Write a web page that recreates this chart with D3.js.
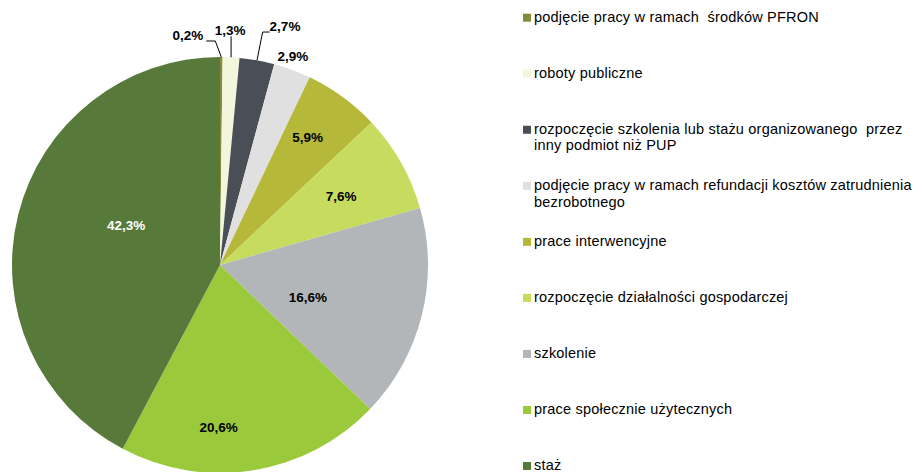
<!DOCTYPE html>
<html>
<head>
<meta charset="utf-8">
<script src="https://cdn.jsdelivr.net/npm/d3@7"></script>
<style>
  html, body { margin: 0; padding: 0; background: #fff; }
  svg { display: block; }
  text { font-family: Arial, "Liberation Sans", sans-serif; }
</style>
</head>
<body>
<svg id="chart" width="917" height="472"></svg>
<script>
// Forms of activation of the unemployed – share of participants (%)
const categories = [
  "podjęcie pracy w ramach środków PFRON",
  "roboty publiczne",
  "rozpoczęcie szkolenia lub stażu organizowanego przez inny podmiot niż PUP",
  "podjęcie pracy w ramach refundacji kosztów zatrudnienia bezrobotnego",
  "prace interwencyjne",
  "rozpoczęcie działalności gospodarczej",
  "szkolenie",
  "prace społecznie użytecznych",
  "staż"
];
const values = [0.2, 1.3, 2.7, 2.9, 5.9, 7.6, 16.6, 20.6, 42.3];

// Legend lines (long names wrap onto two lines)
const legendLines = [
  ["podjęcie pracy w ramach  środków PFRON"],
  ["roboty publiczne"],
  ["rozpoczęcie szkolenia lub stażu organizowanego  przez", "inny podmiot niż PUP"],
  ["podjęcie pracy w ramach refundacji kosztów zatrudnienia", "bezrobotnego"],
  ["prace interwencyjne"],
  ["rozpoczęcie działalności gospodarczej"],
  ["szkolenie"],
  ["prace społecznie użytecznych"],
  ["staż"]
];

const colors = ["#848c3c", "#f3f6dc", "#4a4f57", "#e0e0e0", "#b6b83a",
                "#c7dc5e", "#b3b6b9", "#9bc93c", "#577a3a"];
const labelColors = ["#000", "#000", "#000", "#000", "#000", "#000", "#000", "#000", "#fff"];

// Label placement: angle shift (deg) from the slice middle, radius factor,
// and leader style for the small slices whose labels sit outside the pie.
const labelPlacement = [
  { da: -8.3, rf: 1.118, leader: "left" },
  { da: -0.6, rf: 1.131, leader: "up" },
  { da: 4.95, rf: 1.192, leader: "right" },
  { da: -1.1, rf: 1.064, leader: null },
  { da: -1.7, rf: 0.745, leader: null },
  { da: -0.1, rf: 0.67, leader: null },
  { da: 6.0, rf: 0.45, leader: null },
  { da: 9.7, rf: 0.78, leader: null },
  { da: 9.0, rf: 0.49, leader: null }
];

const svg = d3.select("#chart");
const cx = 220, cy = 265, radius = 208;

const fmt = v => d3.format(".1f")(v).replace(".", ",") + "%";

const pie = d3.pie().sort(null).value(d => d.value).startAngle(0).endAngle(2 * Math.PI);
const data = categories.map((c, i) => ({ name: c, value: values[i], i }));
const arcs = pie(data);
const arc = d3.arc().innerRadius(0).outerRadius(radius);

const g = svg.append("g").attr("transform", `translate(${cx},${cy})`);

g.selectAll("path.slice")
  .data(arcs)
  .join("path")
  .attr("class", "slice")
  .attr("d", arc)
  .attr("fill", d => colors[d.data.i]);

const polar = (a, r) => [r * Math.sin(a), -r * Math.cos(a)];

// Data labels
arcs.forEach(d => {
  const p = labelPlacement[d.data.i];
  const mid = (d.startAngle + d.endAngle) / 2;
  const la = mid + p.da * Math.PI / 180;
  const [lx, ly] = polar(la, radius * p.rf);
  const t = g.append("text")
    .attr("x", lx).attr("y", ly)
    .attr("dy", "0.36em")
    .attr("text-anchor", "middle")
    .attr("font-size", "13.5px")
    .attr("font-weight", "bold")
    .attr("fill", labelColors[d.data.i])
    .text(fmt(d.data.value));

  if (p.leader) {
    const bb = t.node().getBBox();
    const [ex, ey] = polar(mid, radius);
    const yy = ly + 6.3;
    let pts;
    if (p.leader === "left") {
      const x0 = bb.x + bb.width + 3;
      pts = [[ex, ey], [x0 + 9, yy], [x0, yy]];
    } else if (p.leader === "right") {
      const x0 = bb.x;
      pts = [[ex, ey], [x0 - 7, yy], [x0, yy]];
    } else {
      pts = [[ex, ey], [ex, yy]];
    }
    g.append("path")
      .attr("d", d3.line()(pts))
      .attr("fill", "none")
      .attr("stroke", "#000")
      .attr("stroke-width", 1);
  }
});

// Legend
const legend = svg.append("g").attr("transform", "translate(523,0)");
const legendY = d3.scaleLinear().domain([0, categories.length - 1]).range([21.7, 470]);

categories.forEach((c, i) => {
  const y = legendY(i);
  legend.append("rect")
    .attr("x", 0).attr("y", y - 8)
    .attr("width", 8).attr("height", 8)
    .attr("fill", colors[i]);
  const t = legend.append("text")
    .attr("x", 11).attr("y", y)
    .attr("font-size", "14.5px")
    .attr("letter-spacing", "0.2px")
    .attr("fill", "#000")
    .attr("xml:space", "preserve")
    .style("white-space", "pre");
  legendLines[i].forEach((line, k) => {
    t.append("tspan").attr("x", 11).attr("y", y + k * 16.7).text(line);
  });
});
</script>
</body>
</html>
